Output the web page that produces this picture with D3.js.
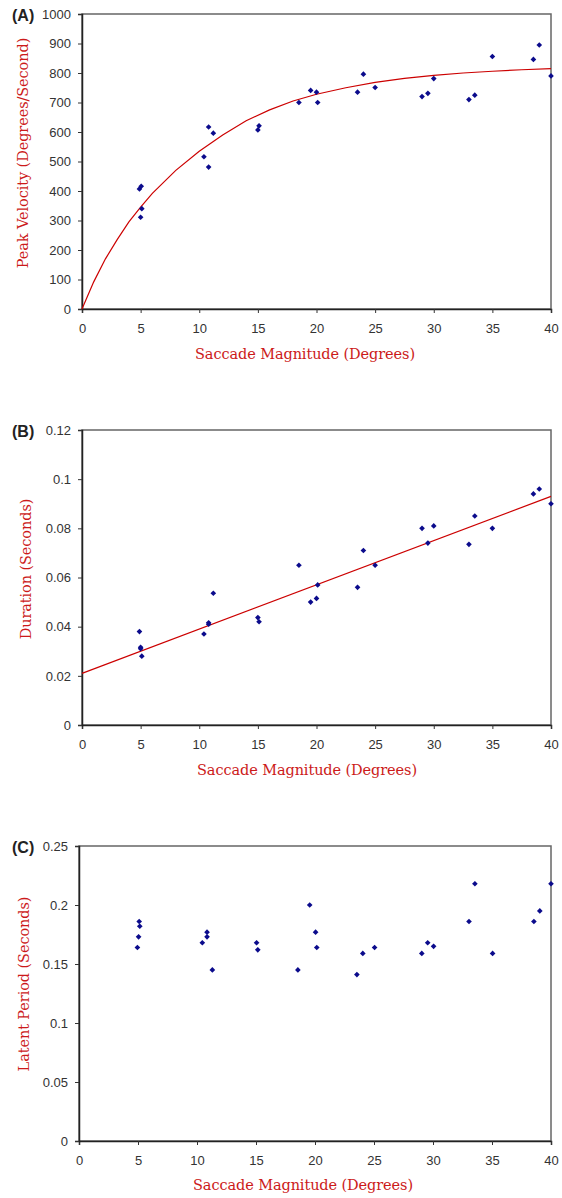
<!DOCTYPE html>
<html>
<head>
<meta charset="utf-8">
<script src="https://cdn.jsdelivr.net/npm/d3@7"></script>
<style>
  body { margin: 0; background: #fff; }
  .tick text { font-family: "Liberation Sans", Arial, sans-serif; font-size: 13px; fill: #333; }
  .axis-title { font-family: "DejaVu Serif", serif; font-size: 14.5px; fill: #cc1a1a; letter-spacing: -0.1px; }
  .panel-tag { font-family: "Liberation Sans", Arial, sans-serif; font-size: 16px; font-weight: bold; fill: #222; }
</style>
</head>
<body>
<svg id="chart" width="562" height="1198"></svg>
<script>
// (A) peak velocity vs saccade magnitude
const saccadeA = [4.9, 5.05, 5.1, 5.0, 10.4, 10.8, 10.8, 11.2, 15.0, 15.1, 18.5, 19.5, 20.0, 20.1,
  23.5, 24.0, 25.0, 29.0, 29.5, 30.0, 33.0, 33.5, 35.0, 38.5, 39.0, 40.0];
const peakVelocity = [407, 416, 340, 311, 516, 481, 617, 596, 607, 621, 700, 741, 735, 700,
  735, 796, 751, 720, 731, 781, 710, 725, 856, 846, 895, 790];
// fitted curve
const velocityFitX = [0, 1, 2, 3, 4, 5, 6, 8, 10, 12, 14, 16, 18, 20, 22.5, 25, 27.5, 30, 32.5, 35, 37.5, 40];
const velocityFit = [0, 92, 170, 235, 295, 345, 392, 470, 535, 590, 638, 675, 705, 728, 750, 768, 782, 792, 800, 806, 811, 815];

// (B) duration
const saccadeB = [4.9, 5.0, 5.0, 5.1, 10.4, 10.8, 10.8, 11.2, 15.0, 15.1, 18.5, 19.5, 20.0, 20.1,
  23.5, 24.0, 25.0, 29.0, 29.5, 30.0, 33.0, 33.5, 35.0, 38.5, 39.0, 40.0];
const duration = [0.038, 0.0316, 0.031, 0.028, 0.037, 0.0416, 0.041, 0.0536, 0.0437, 0.042, 0.065, 0.050, 0.0515, 0.057,
  0.056, 0.071, 0.065, 0.080, 0.074, 0.081, 0.0735, 0.085, 0.080, 0.094, 0.096, 0.090];
const durationFitX = [0, 40];
const durationFit = [0.021, 0.093];

// (C) latent period
const saccadeC = [4.95, 5.05, 5.1, 5.15, 10.45, 10.85, 10.85, 11.3, 15.05, 15.15, 18.55, 19.55, 20.05, 20.15,
  23.55, 24.05, 25.05, 29.05, 29.55, 30.05, 33.05, 33.55, 35.05, 38.55, 39.05, 40.0];
const latentPeriod = [0.164, 0.173, 0.186, 0.182, 0.168, 0.177, 0.173, 0.145, 0.168, 0.162, 0.145, 0.200, 0.177, 0.164,
  0.141, 0.159, 0.164, 0.159, 0.168, 0.165, 0.186, 0.218, 0.159, 0.186, 0.195, 0.218];

const xTicks = [0, 5, 10, 15, 20, 25, 30, 35, 40];
const velocityTicks = [0, 100, 200, 300, 400, 500, 600, 700, 800, 900, 1000];
const durationTicks = [0, 0.02, 0.04, 0.06, 0.08, 0.1, 0.12];
const latentTicks = [0, 0.05, 0.1, 0.15, 0.2, 0.25];

const xTitle = "Saccade Magnitude (Degrees)";

const svg = d3.select("#chart");
svg.append("rect").attr("width", 562).attr("height", 1198).attr("fill", "#fff");

function drawPanel(p) {
  const x = d3.scaleLinear().domain([0, 40]).range([p.left, p.right]);
  const y = d3.scaleLinear().domain([0, p.yMax]).range([p.bottom, p.top]);
  const g = svg.append("g");

  // frame (top + right are a lighter grey)
  g.append("rect")
    .attr("x", p.left).attr("y", p.top)
    .attr("width", p.right - p.left).attr("height", p.bottom - p.top)
    .attr("fill", "none").attr("stroke", "#666").attr("stroke-width", 1.5);

  const xAxis = g.append("g")
    .attr("transform", `translate(0,${p.bottom})`)
    .call(d3.axisBottom(x).tickValues(xTicks).tickSize(4).tickPadding(11).tickFormat(d3.format("d")));
  const yAxis = g.append("g")
    .attr("transform", `translate(${p.left},0)`)
    .call(d3.axisLeft(y).tickValues(p.yTicks).tickSize(4).tickPadding(7)
      .tickFormat(d => String(+d.toFixed(3))));
  [xAxis, yAxis].forEach(a => {
    a.select(".domain").attr("stroke", "#222").attr("stroke-width", 1.5);
    a.selectAll(".tick line").attr("stroke", "#333");
  });

  // fit line
  if (p.fitX) {
    const line = d3.line().x(d => x(d[0])).y(d => y(d[1]));
    g.append("path")
      .datum(d3.zip(p.fitX, p.fitY))
      .attr("d", line)
      .attr("fill", "none")
      .attr("stroke", "#cc0000")
      .attr("stroke-width", 1.2);
  }

  // markers (small diamonds)
  const sym = d3.symbol().type(d3.symbolSquare).size(16);
  g.selectAll("path.pt")
    .data(d3.zip(p.xs, p.ys))
    .enter().append("path")
    .attr("class", "pt")
    .attr("d", sym)
    .attr("transform", d => `translate(${x(d[0])},${y(d[1])}) rotate(45)`)
    .attr("fill", "#0b0b8c");

  g.append("text").attr("class", "panel-tag")
    .attr("x", 12).attr("y", p.top + 7).text(p.tag);

  g.append("text").attr("class", "axis-title")
    .attr("text-anchor", "middle")
    .attr("transform", `translate(${p.yTitleX},${p.yTitleY}) rotate(-90)`)
    .text(p.yTitle);

  g.append("text").attr("class", "axis-title")
    .attr("text-anchor", "middle")
    .attr("x", p.xTitleX).attr("y", p.xTitleY)
    .text(xTitle);
}

drawPanel({
  tag: "(A)", left: 82, right: 551, top: 14, bottom: 309, yMax: 1000, yTicks: velocityTicks,
  xs: saccadeA, ys: peakVelocity, fitX: velocityFitX, fitY: velocityFit,
  yTitle: "Peak Velocity (Degrees/Second)", yTitleX: 28, yTitleY: 153, xTitleX: 305, xTitleY: 359
});
drawPanel({
  tag: "(B)", left: 82, right: 551, top: 430, bottom: 725, yMax: 0.12, yTicks: durationTicks,
  xs: saccadeB, ys: duration, fitX: durationFitX, fitY: durationFit,
  yTitle: "Duration (Seconds)", yTitleX: 31, yTitleY: 569, xTitleX: 307, xTitleY: 775
});
drawPanel({
  tag: "(C)", left: 79, right: 551, top: 846, bottom: 1141, yMax: 0.25, yTicks: latentTicks,
  xs: saccadeC, ys: latentPeriod,
  yTitle: "Latent Period (Seconds)", yTitleX: 29, yTitleY: 984, xTitleX: 303, xTitleY: 1190
});
</script>
</body>
</html>
